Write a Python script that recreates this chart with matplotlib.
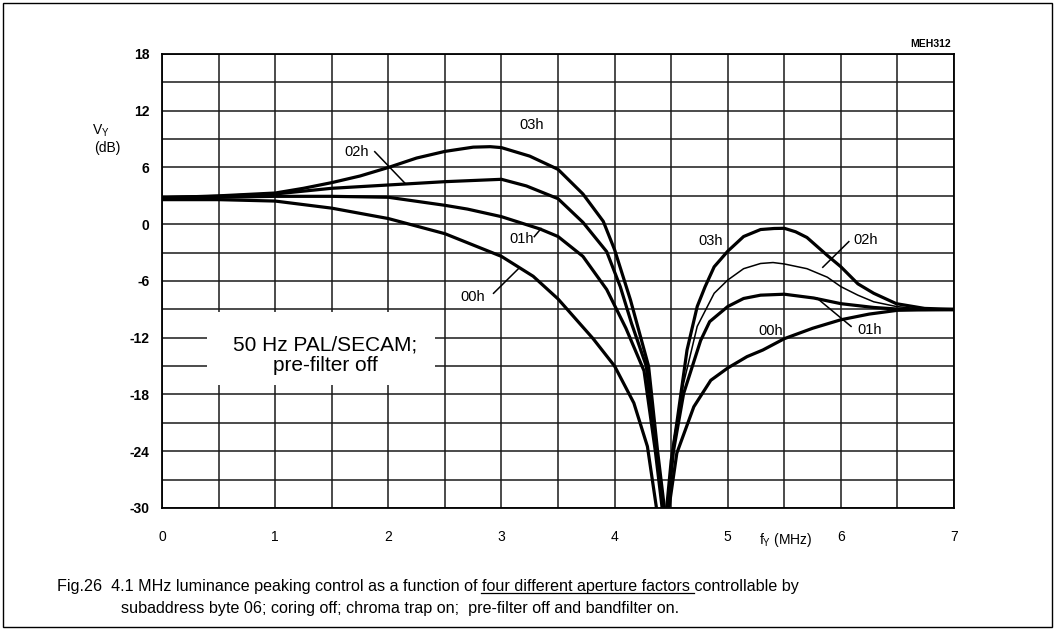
import matplotlib
matplotlib.use('Agg')
import matplotlib.pyplot as plt
from matplotlib.patches import Rectangle
from matplotlib.lines import Line2D
from matplotlib.ticker import MultipleLocator, FixedLocator

plt.rcParams['font.family'] = ['Liberation Sans', 'DejaVu Sans']

# ---------------- data ----------------
x_ticks = [0, 1, 2, 3, 4, 5, 6, 7]
y_ticks = [18, 12, 6, 0, -6, -12, -18, -24, -30]

# 03h
h03_left_x = [0, 0.5, 1.0, 1.25, 1.5, 1.75, 2.0, 2.25, 2.5, 2.75, 2.9, 3.0, 3.25, 3.5, 3.72, 3.9, 4.0, 4.14, 4.3, 4.38, 4.44]
h03_left_y = [2.8, 3.0, 3.3, 3.8, 4.4, 5.1, 6.0, 7.0, 7.7, 8.15, 8.2, 8.1, 7.2, 5.8, 3.2, 0.3, -2.7, -8.0, -15.0, -24.0, -30.0]
h03_right_x = [4.46, 4.5, 4.55, 4.64, 4.73, 4.80, 4.88, 5.0, 5.14, 5.29, 5.41, 5.5, 5.6, 5.7, 5.88, 6.0, 6.15, 6.29, 6.49, 6.74, 7.0]
h03_right_y = [-30.0, -25.0, -21.0, -13.3, -8.7, -6.6, -4.5, -2.85, -1.3, -0.56, -0.45, -0.43, -0.8, -1.4, -3.3, -4.5, -6.3, -7.3, -8.4, -8.9, -9.0]

# 02h
h02_left_x = [0, 0.5, 1.0, 1.5, 2.0, 2.5, 3.0, 3.22, 3.5, 3.72, 3.93, 4.05, 4.15, 4.28, 4.37, 4.43]
h02_left_y = [2.8, 2.95, 3.2, 3.8, 4.15, 4.5, 4.75, 4.05, 2.7, 0.2, -2.9, -6.6, -10.5, -15.0, -24.0, -30.0]
h02_right_x = [4.47, 4.52, 4.61, 4.73, 4.88, 5.0, 5.14, 5.29, 5.4, 5.5, 5.7, 5.88, 6.0, 6.15, 6.29, 6.49, 6.74, 7.0]
h02_right_y = [-30.0, -23.0, -16.8, -10.8, -7.3, -5.9, -4.7, -4.15, -4.05, -4.2, -4.7, -5.6, -6.6, -7.5, -8.2, -8.7, -9.0, -9.05]

# 01h
h01_left_x = [0, 0.5, 1.0, 1.5, 2.0, 2.5, 2.7, 3.0, 3.34, 3.5, 3.72, 3.93, 4.1, 4.26, 4.36, 4.42]
h01_left_y = [2.8, 2.85, 2.95, 2.95, 2.85, 2.0, 1.6, 0.8, -0.5, -1.3, -3.4, -6.9, -11.0, -15.5, -24.0, -30.0]
h01_right_x = [4.47, 4.52, 4.61, 4.76, 4.84, 5.0, 5.14, 5.29, 5.5, 5.76, 6.0, 6.29, 6.49, 6.74, 7.0]
h01_right_y = [-30.0, -24.0, -17.9, -12.3, -10.3, -8.7, -7.85, -7.5, -7.4, -7.8, -8.4, -8.8, -8.96, -9.02, -9.05]

# 00h
h00_left_x = [0, 0.5, 1.0, 1.5, 2.0, 2.5, 3.0, 3.28, 3.5, 3.81, 4.0, 4.17, 4.29, 4.37]
h00_left_y = [2.6, 2.6, 2.45, 1.7, 0.6, -1.0, -3.4, -5.5, -7.9, -12.1, -15.0, -18.9, -23.5, -30.0]
h00_right_x = [4.48, 4.55, 4.7, 4.85, 5.0, 5.17, 5.31, 5.5, 5.75, 6.0, 6.25, 6.5, 6.75, 7.0]
h00_right_y = [-30.0, -24.2, -19.3, -16.5, -15.2, -14.0, -13.3, -12.1, -11.0, -10.1, -9.5, -9.1, -9.05, -9.0]

# ---------------- figure ----------------
fig = plt.figure(figsize=(10.55, 6.3), dpi=100)
ax = fig.add_axes([0.1536, 0.1937, 0.7507, 0.7206])

ax.set_xlim(0, 7)
ax.set_ylim(-30, 18)
ax.xaxis.set_major_locator(FixedLocator(x_ticks))
ax.yaxis.set_major_locator(FixedLocator(y_ticks))
ax.set_xticklabels([str(v) for v in x_ticks])
ax.set_yticklabels([str(v) for v in y_ticks])
ax.xaxis.set_minor_locator(MultipleLocator(0.5))
ax.yaxis.set_minor_locator(MultipleLocator(3))
ax.tick_params(which='both', length=0)
ax.tick_params(axis='x', pad=16, labelsize=10)
ax.tick_params(axis='y', pad=9, labelsize=10)
for lab in ax.get_yticklabels():
    lab.set_fontweight('bold')
ax.set_axisbelow(True)
ax.grid(which='both', color='#1a1a1a', linewidth=1.1)
for sp in ax.spines.values():
    sp.set_linewidth(1.3)
    sp.set_color('black')

# white box behind the note
ax.add_patch(Rectangle((0.40, -17.0), 2.01, 7.7, facecolor='white',
                       edgecolor='none', zorder=1.5))
ax.text(1.44, -13.85, '50 Hz PAL/SECAM;\npre-filter off', ha='center',
        va='center', fontsize=15, linespacing=1.15, zorder=4)

thick = 2.3
thin = 1.1
kw = dict(color='black', zorder=3, solid_joinstyle='round', solid_capstyle='round')
ax.plot(h03_left_x, h03_left_y, lw=thick, **kw)
ax.plot(h03_right_x, h03_right_y, lw=thick, **kw)
ax.plot(h02_left_x, h02_left_y, lw=thick, **kw)
ax.plot(h02_right_x, h02_right_y, lw=thin, **kw)
ax.plot(h01_left_x, h01_left_y, lw=thick, **kw)
ax.plot(h01_right_x, h01_right_y, lw=thick, **kw)
ax.plot(h00_left_x, h00_left_y, lw=thick, **kw)
ax.plot(h00_right_x, h00_right_y, lw=thick, **kw)

# curve labels
lab_kw = dict(fontsize=10.5, ha='center', va='center', zorder=4)
ax.text(3.27, 10.5, '03h', **lab_kw)
ax.text(1.72, 7.6, '02h', **lab_kw)
ax.text(3.18, -1.6, '01h', **lab_kw)
ax.text(2.75, -7.65, '00h', **lab_kw)
ax.text(4.85, -1.75, '03h', **lab_kw)
ax.text(6.22, -1.66, '02h', **lab_kw)
ax.text(6.25, -11.2, '01h', **lab_kw)
ax.text(5.38, -11.25, '00h', **lab_kw)

lead_kw = dict(color='black', lw=1.1, zorder=4)
ax.plot([1.88, 2.15], [7.67, 4.3], **lead_kw)
ax.plot([3.29, 3.35], [-1.31, -0.45], **lead_kw)
ax.plot([2.93, 3.15], [-7.3, -4.7], **lead_kw)
ax.plot([6.07, 5.84], [-1.84, -4.55], **lead_kw)
ax.plot([6.09, 5.79], [-10.8, -7.83], **lead_kw)

# annotations outside the plot
ax.text(6.97, 19.1, 'MEH312', ha='right', va='center', fontsize=7.5,
        fontweight='bold', clip_on=False)
fig.text(0.0957, 0.792, r'V$_\mathregular{Y}$', ha='center', va='center', fontsize=10)
fig.text(0.1014, 0.765, '(dB)', ha='center', va='center', fontsize=10)
fig.text(0.745, 0.143, r'f$_\mathregular{Y}$ (MHz)', ha='center', va='center', fontsize=10)

# caption
line1_pre = 'Fig.26  4.1 MHz luminance peaking control as a function of '
line1_ul = 'four different aperture factors'
line1_post = ' controllable by'
cap_fs = 11.6
t1 = fig.text(0.054, 0.0683, line1_pre + line1_ul + line1_post, ha='left',
              va='center', fontsize=cap_fs)
fig.text(0.1147, 0.0349,
         'subaddress byte 06; coring off; chroma trap on;  pre-filter off and bandfilter on.',
         ha='left', va='center', fontsize=cap_fs)

fig.canvas.draw()
renderer = fig.canvas.get_renderer()
tmp_a = fig.text(0.054, 0.0683, line1_pre, ha='left', va='center', fontsize=cap_fs)
tmp_b = fig.text(0.054, 0.0683, line1_pre + line1_ul + ' ', ha='left', va='center', fontsize=cap_fs)
ea = tmp_a.get_window_extent(renderer)
eb = tmp_b.get_window_extent(renderer)
e1 = t1.get_window_extent(renderer)
tmp_a.remove()
tmp_b.remove()
W, H = fig.bbox.width, fig.bbox.height
uy = (e1.y0 + 1) / H
fig.add_artist(Line2D([(ea.x1 - 1) / W, eb.x1 / W], [uy, uy], color='black',
                      lw=0.9, transform=fig.transFigure))

# outer frame
fig.add_artist(Rectangle((0.003, 0.004), 0.994, 0.991, transform=fig.transFigure,
                         fill=False, edgecolor='black', lw=1.0))

fig.savefig('out.png', dpi=100)
